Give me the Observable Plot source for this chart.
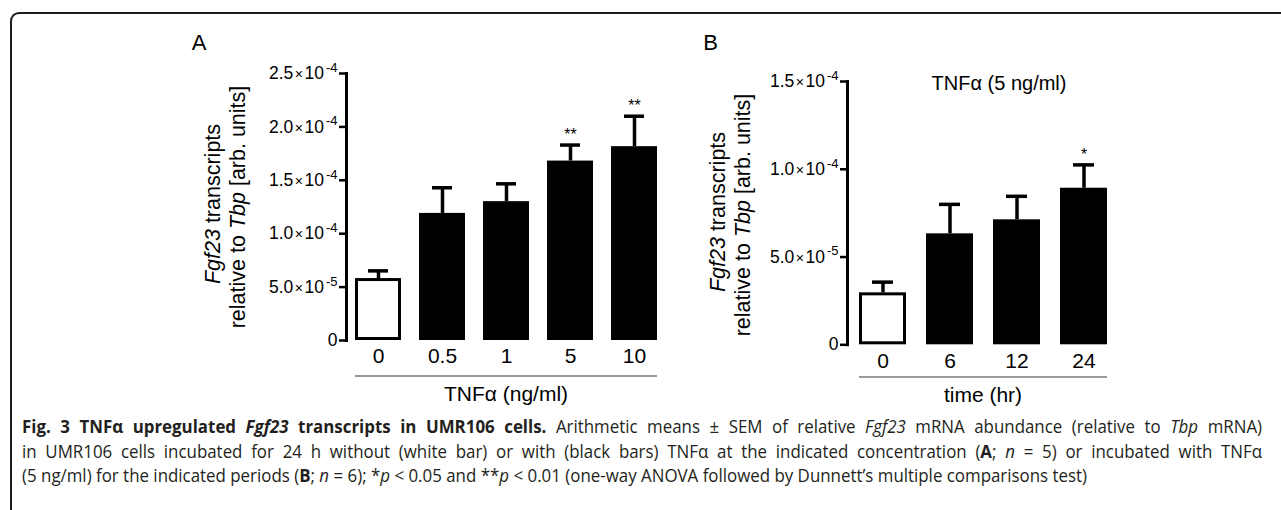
<!DOCTYPE html>
<html>
<head>
<meta charset="utf-8">
<script src="https://cdn.jsdelivr.net/npm/d3@7"></script>
<script src="https://cdn.jsdelivr.net/npm/@observablehq/plot@0.6"></script>
<style>
  html, body { margin: 0; padding: 0; background: #fff; }
  body { width: 1281px; height: 510px; overflow: hidden; position: relative; font-family: "Liberation Sans", Arial, sans-serif; }
  #frame { position: absolute; left: 10px; top: 12px; width: 1320px; height: 560px; border-top: 2px solid #1e1e1e; border-left: 2px solid #1e1e1e; border-top-left-radius: 9px; }
  #panelA { position: absolute; left: 150px; top: 30px; }
  #panelB { position: absolute; left: 680px; top: 30px; }
  #caption { position: absolute; left: 22px; top: 414px; font-family: "Open Sans", sans-serif; font-size: 17.5px; line-height: 24.5px; color: #231f20; transform-origin: 0 0; }
  #caption .just { white-space: nowrap; text-align: justify; text-align-last: justify; }
  #caption .last { white-space: nowrap; width: max-content; }
</style>
</head>
<body>
<div id="frame"></div>
<div id="panelA"></div>
<div id="panelB"></div>
<div id="caption">
  <div id="cap1" class="just"><b>Fig. 3 TNFα upregulated <i>Fgf23</i> transcripts in UMR106 cells.</b> Arithmetic means ± SEM of relative <i>Fgf23</i> mRNA abundance (relative to <i>Tbp</i> mRNA)</div>
  <div id="cap2" class="just">in UMR106 cells incubated for 24 h without (white bar) or with (black bars) TNFα at the indicated concentration (<b>A</b>; <i>n</i> = 5) or incubated with TNFα</div>
  <div id="cap3" class="last">(5 ng/ml) for the indicated periods (<b>B</b>; <i>n</i> = 6); *<i>p</i> &lt; 0.05 and **<i>p</i> &lt; 0.01 (one-way ANOVA followed by Dunnett’s multiple comparisons test)</div>
</div>
<script>
// ---------- data ----------
const doseLabels = ["0", "0.5", "1", "5", "10"];
const doseGroups = ["control", "TNFα", "TNFα", "TNFα", "TNFα"];
const doseMeans  = [5.8e-5, 1.19e-4, 1.30e-4, 1.68e-4, 1.815e-4];
const doseSEM    = [0.72e-5, 0.24e-4, 0.167e-4, 0.15e-4, 0.285e-4];
const doseSig    = ["", "", "", "**", "**"];
const doseTicks  = [0, 5e-5, 1e-4, 1.5e-4, 2e-4, 2.5e-4];

const timeLabels = ["0", "6", "12", "24"];
const timeGroups = ["control", "TNFα", "TNFα", "TNFα"];
const timeMeans  = [2.96e-5, 6.32e-5, 7.12e-5, 8.92e-5];
const timeSEM    = [0.61e-5, 1.68e-5, 1.34e-5, 1.33e-5];
const timeSig    = ["", "", "", "*"];
const timeTicks  = [0, 5e-5, 1e-4, 1.5e-4];

const groupDomain = ["control", "TNFα"];
const groupColors = ["white", "black"];

// ---------- helpers ----------
function sciFormat(d) {
  if (d === 0) return "0";
  const e = Math.floor(Math.log10(d) + 1e-9);
  const m = d / Math.pow(10, e);
  return m.toFixed(1) + "×10^" + e;
}

const NS = "http://www.w3.org/2000/svg";
function tspan(parent, txt, attrs = {}) {
  const t = document.createElementNS(NS, "tspan");
  t.textContent = txt;
  for (const k in attrs) t.setAttribute(k, attrs[k]);
  parent.appendChild(t);
  return t;
}

function decorateTicks(svg) {
  svg.querySelectorAll('g[aria-label="y-axis tick label"] text').forEach(t => {
    const s = t.textContent;
    if (!s.includes("^")) return;
    const [base, exp] = s.split("^");
    const [m] = base.split("×");
    t.textContent = "";
    tspan(t, m);
    tspan(t, "×", {"font-size": 14, "dx": "1.5"});
    tspan(t, "10", {"dx": "1.5"});
    tspan(t, exp, {"font-size": 13, "dy": "-0.55em", "dx": "2"});
  });
}

function panel(cfg) {
  const data = cfg.labels.map((k, i) => ({
    k, m: cfg.means[i], hi: cfg.means[i] + cfg.sem[i], sig: cfg.sig[i], g: cfg.groups[i]
  }));
  const svg = Plot.plot({
    width: cfg.width, height: cfg.height,
    marginLeft: cfg.mL, marginRight: cfg.mR, marginTop: cfg.mT, marginBottom: cfg.mB,
    style: {fontFamily: "'Liberation Sans', Arial, sans-serif", color: "black", background: "transparent", overflow: "visible"},
    x: {domain: cfg.labels, paddingInner: cfg.pIn, paddingOuter: cfg.pOut, label: null},
    y: {domain: [0, cfg.yMax], label: null},
    color: {domain: groupDomain, range: groupColors},
    marks: [
      Plot.ruleX(data, {x: "k", y1: "m", y2: "hi", stroke: "black", strokeWidth: 3.5}),
      Plot.tickY(data, {x: "k", y: "hi", stroke: "black", strokeWidth: 3.5, inset: cfg.capInset}),
      Plot.barY(data, {x: "k", y: "m", fill: "g", stroke: "black", strokeWidth: 3, inset: 1.5}),
      Plot.text(data, {x: "k", y: "hi", text: "sig", dy: -10, fontSize: 16}),
      Plot.frame({anchor: "left", stroke: "black", strokeWidth: 3}),
      Plot.axisY({ticks: cfg.ticks, tickFormat: sciFormat, tickSize: 7, tickPadding: 2, strokeWidth: 2.5, fontSize: 17.5, label: null}),
      Plot.axisX({tickSize: 0, tickPadding: 8, fontSize: 21, label: null})
    ]
  });
  decorateTicks(svg);

  const xs = svg.scale("x");
  const bw = xs.bandwidth;
  const left = xs.apply(cfg.labels[0]);
  const right = xs.apply(cfg.labels[cfg.labels.length - 1]) + bw;
  const bottom = cfg.height - cfg.mB;
  const s = d3.select(svg);
  // grey bracket line under the categories
  s.append("line")
    .attr("x1", left).attr("x2", right)
    .attr("y1", bottom + cfg.lineOff).attr("y2", bottom + cfg.lineOff)
    .attr("stroke", "#9a9a9a").attr("stroke-width", 2);
  // x-axis title
  s.append("text")
    .attr("x", (left + right) / 2).attr("y", bottom + cfg.titleOff)
    .attr("text-anchor", "middle").attr("font-size", 21).attr("fill", "black")
    .text(cfg.xTitle);
  // y-axis title (two rotated lines with italic gene names)
  const t1 = s.append("text")
    .attr("transform", `translate(${cfg.yt1[0]},${cfg.yt1[1]}) rotate(-90)`)
    .attr("text-anchor", "middle").attr("dy", "0.35em").attr("font-size", 21.5).attr("fill", "black").node();
  tspan(t1, "Fgf23", {"font-style": "italic"});
  tspan(t1, " transcripts");
  const t2 = s.append("text")
    .attr("transform", `translate(${cfg.yt2[0]},${cfg.yt2[1]}) rotate(-90)`)
    .attr("text-anchor", "middle").attr("dy", "0.35em").attr("font-size", 21.5).attr("fill", "black").node();
  tspan(t2, "relative to ");
  tspan(t2, "Tbp", {"font-style": "italic"});
  tspan(t2, " [arb. units]");
  // panel letter
  s.append("text").attr("x", cfg.letter[0]).attr("y", cfg.letter[1])
    .attr("text-anchor", "middle").attr("font-size", 22).attr("fill", "black").text(cfg.letterText);
  if (cfg.subtitle) {
    s.append("text").attr("x", cfg.subtitle[0]).attr("y", cfg.subtitle[1])
      .attr("text-anchor", "middle").attr("font-size", 20).attr("fill", "black").text(cfg.subtitleText);
  }
  return svg;
}

document.getElementById("panelA").appendChild(panel({
  labels: doseLabels, groups: doseGroups, means: doseMeans, sem: doseSEM, sig: doseSig, ticks: doseTicks,
  yMax: 2.5e-4, width: 530, height: 380, mL: 196, mR: 14, mT: 43, mB: 70,
  pIn: 0.28, pOut: 0.14, capInset: 13, lineOff: 36, titleOff: 61,
  xTitle: "TNFα (ng/ml)", yt1: [62, 174], yt2: [87, 177], letter: [49, 20], letterText: "A"
}));

document.getElementById("panelB").appendChild(panel({
  labels: timeLabels, groups: timeGroups, means: timeMeans, sem: timeSEM, sig: timeSig, ticks: timeTicks,
  yMax: 1.5e-4, width: 450, height: 380, mL: 167, mR: 12, mT: 51, mB: 65.7,
  pIn: 0.305, pOut: 0.173, capInset: 13, lineOff: 32.7, titleOff: 57.7,
  xTitle: "time (hr)", yt1: [37, 182], yt2: [62, 185], letter: [30.5, 20], letterText: "B",
  subtitle: [319, 60], subtitleText: "TNFα (5 ng/ml)"
}));

// condensed caption: the last line keeps its natural width, the first two are justified to the full width
(function fitCaption() {
  const cap = document.getElementById("caption");
  const w3 = document.getElementById("cap3").getBoundingClientRect().width;
  const w2 = document.getElementById("cap2").scrollWidth;
  let k = 1065 / w3;
  const full = 1240 / k;
  document.getElementById("cap1").style.width = full + "px";
  document.getElementById("cap2").style.width = full + "px";
  cap.style.transform = `scaleX(${k.toFixed(4)})`;
})();
</script>
</body>
</html>
